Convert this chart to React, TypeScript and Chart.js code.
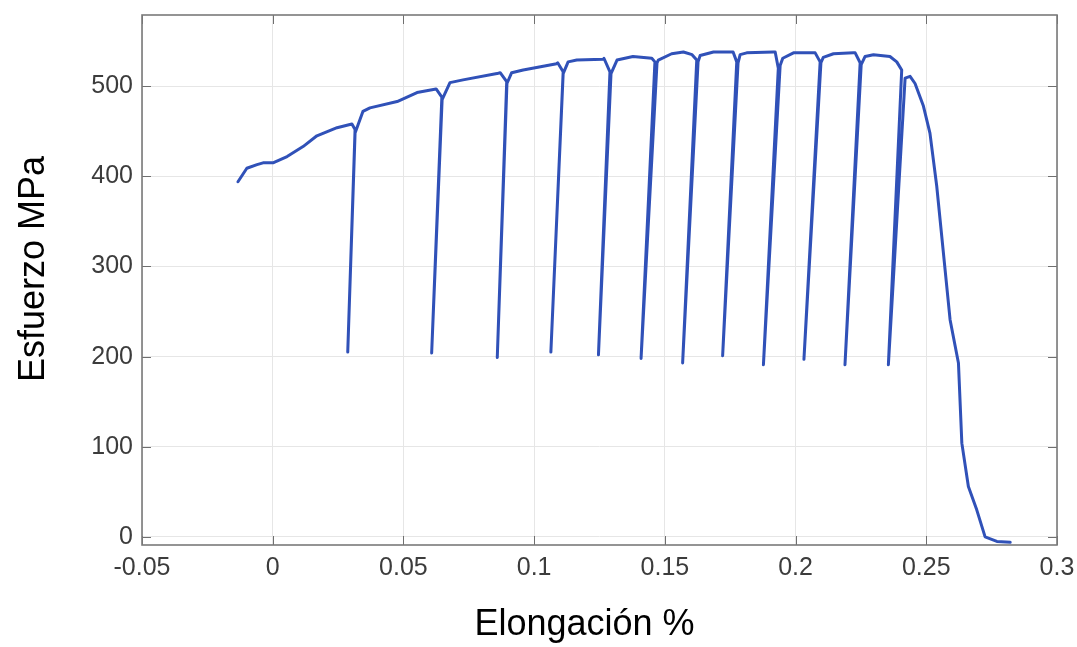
import React, { useEffect, useRef } from "react";
import { Chart, registerables } from "chart.js";

Chart.register(...registerables);

// Elongation (%) readings along the curve
const elongation: number[] = [
  -0.0133, -0.0099, -0.0060, -0.0037, 0.0001, 0.0055, 0.0116, 0.0169, 0.0246, 0.0303,
  0.0315, 0.0287, 0.0315, 0.0345, 0.0372, 0.0476, 0.0552, 0.0625,
  0.0647, 0.0608, 0.0648, 0.0678, 0.0728, 0.0858, 0.0870,
  0.0895, 0.0859, 0.0896, 0.0914, 0.0958, 0.1086, 0.1090,
  0.1111, 0.1064, 0.1111, 0.1130, 0.1163, 0.1264, 0.1267,
  0.1290, 0.1246, 0.1294, 0.1317, 0.1378, 0.1450,
  0.1462, 0.1409, 0.1470, 0.1475, 0.1526, 0.1571, 0.1604,
  0.1622, 0.1568, 0.1627, 0.1635, 0.1686, 0.1756, 0.1761,
  0.1775, 0.1721, 0.1780, 0.1788, 0.1813, 0.1915, 0.1922,
  0.1934, 0.1877, 0.1941, 0.1951, 0.1992, 0.2068, 0.2075,
  0.2094, 0.2032, 0.2097, 0.2106, 0.2145, 0.2221, 0.2228,
  0.2247, 0.2189, 0.2251, 0.2266, 0.2298, 0.2361, 0.2387, 0.2406,
  0.2355, 0.2419, 0.2438, 0.2457, 0.2489, 0.2514, 0.2540, 0.2591, 0.2623,
  0.2636, 0.2661, 0.2693, 0.2725, 0.2770, 0.2821,
];

// Stress (MPa) readings along the curve
const stress: number[] = [
  394, 409, 413, 415, 415, 422, 433, 445, 454, 458,
  452, 205, 448, 472, 476, 483, 493, 497,
  488, 204, 485, 504, 507, 514, 515,
  505, 199, 503, 515, 518, 525, 526,
  516, 205, 514, 527, 529, 530, 531,
  516, 202, 514, 529, 533, 531,
  527, 198, 526, 529, 536, 538, 535,
  529, 193, 527, 534, 538, 538, 538,
  527, 201, 526, 535, 537, 538, 538,
  520, 191, 523, 531, 537, 537, 537,
  527, 197, 526, 532, 536, 537, 537,
  526, 191, 524, 533, 535, 533, 527, 518,
  191, 509, 511, 503, 478, 448, 389, 241, 193,
  104, 56, 30, 0, -5, -6,
];

const xTicks: number[] = [-0.05, 0, 0.05, 0.1, 0.15, 0.2, 0.25, 0.3];
const xTickLabels: string[] = ["-0.05", "0", "0.05", "0.1", "0.15", "0.2", "0.25", "0.3"];
const yTicks: number[] = [0, 100, 200, 300, 400, 500];
const yTickLabels: string[] = ["0", "100", "200", "300", "400", "500"];

const xTitle = "Elongación %";
const yTitle = "Esfuerzo MPa";

const FONT = "'Liberation Sans', Arial, Helvetica, sans-serif";

const framePlugin = {
  id: "matlabFrame",
  afterDatasetsDraw(chart: any) {
    const { ctx, chartArea, scales } = chart;
    const { left, right, top, bottom } = chartArea;
    ctx.save();
    ctx.strokeStyle = "#6f6f6f";
    ctx.lineWidth = 1;
    const tl = 9;
    ctx.beginPath();
    for (const v of xTicks) {
      const px = Math.round(scales.x.getPixelForValue(v)) + 0.5;
      ctx.moveTo(px, bottom);
      ctx.lineTo(px, bottom - tl);
      ctx.moveTo(px, top);
      ctx.lineTo(px, top + tl);
    }
    for (const v of yTicks) {
      const py = Math.round(scales.y.getPixelForValue(v)) + 0.5;
      ctx.moveTo(left, py);
      ctx.lineTo(left + tl, py);
      ctx.moveTo(right, py);
      ctx.lineTo(right - tl, py);
    }
    ctx.stroke();
    ctx.strokeStyle = "#7a7a7a";
    ctx.lineWidth = 1.6;
    ctx.strokeRect(left, top, right - left, bottom - top);

    // axis titles
    ctx.fillStyle = "#000";
    ctx.font = `36px ${FONT}`;
    ctx.textAlign = "center";
    ctx.textBaseline = "middle";
    const cx = (left + right) / 2 - 15;
    ctx.fillText(xTitle, cx, chart.height - 21.5);
    const cy = (top + bottom) / 2 - 11;
    ctx.translate(34.5, cy);
    ctx.rotate(-Math.PI / 2);
    ctx.fillText(yTitle, 0, 0);
    ctx.restore();
  },
};

export default function App() {
  const ref = useRef<HTMLCanvasElement | null>(null);

  useEffect(() => {
    if (!ref.current) return;
    const data = elongation.map((x, i) => ({ x, y: stress[i] }));
    const chart = new Chart(ref.current, {
      type: "line",
      data: {
        datasets: [
          {
            data,
            borderColor: "#3051b8",
            borderWidth: 3,
            pointRadius: 0,
            tension: 0,
            fill: false,
            borderJoinStyle: "round",
            borderCapStyle: "round",
          } as any,
        ],
      },
      options: {
        responsive: false,
        animation: false,
        parsing: false as any,
        normalized: true,
        layout: { padding: { top: 15, right: 20, left: 0, bottom: 0 } },
        plugins: {
          legend: { display: false },
          tooltip: { enabled: false },
        },
        scales: {
          x: {
            type: "linear",
            min: -0.05,
            max: 0.3,
            afterBuildTicks: (s: any) => {
              s.ticks = xTicks.map((v) => ({ value: v }));
            },
            afterFit: (s: any) => {
              s.height = 102;
              s.paddingLeft = 0;
              s.paddingRight = 0;
              s.paddingTop = 0;
              s.paddingBottom = 0;
            },
            grid: { color: "#e6e6e6", lineWidth: 1, drawTicks: false },
            border: { display: false },
            ticks: {
              padding: 8,
              color: "#3c3c3c",
              font: { family: FONT, size: 25 },
              maxRotation: 0,
              autoSkip: false,
              callback: (_v: any, i: number) => xTickLabels[i],
            },
            title: { display: false },
          },
          y: {
            type: "linear",
            min: -9,
            max: 579,
            afterBuildTicks: (s: any) => {
              s.ticks = yTicks.map((v) => ({ value: v }));
            },
            afterFit: (s: any) => {
              s.width = 142;
              s.paddingLeft = 0;
              s.paddingRight = 0;
              s.paddingTop = 0;
              s.paddingBottom = 0;
            },
            grid: { color: "#e6e6e6", lineWidth: 1, drawTicks: false },
            border: { display: false },
            ticks: {
              padding: 9,
              color: "#3c3c3c",
              font: { family: FONT, size: 25 },
              autoSkip: false,
              callback: (_v: any, i: number) => yTickLabels[i],
            },
            title: { display: false },
          },
        },
      },
      plugins: [framePlugin],
    });
    return () => chart.destroy();
  }, []);

  return (
    <div style={{ position: "fixed", left: 0, top: 0, width: 1077, height: 647, background: "#fff" }}>
      <canvas ref={ref} width={1077} height={647} style={{ display: "block" }} />
    </div>
  );
}
